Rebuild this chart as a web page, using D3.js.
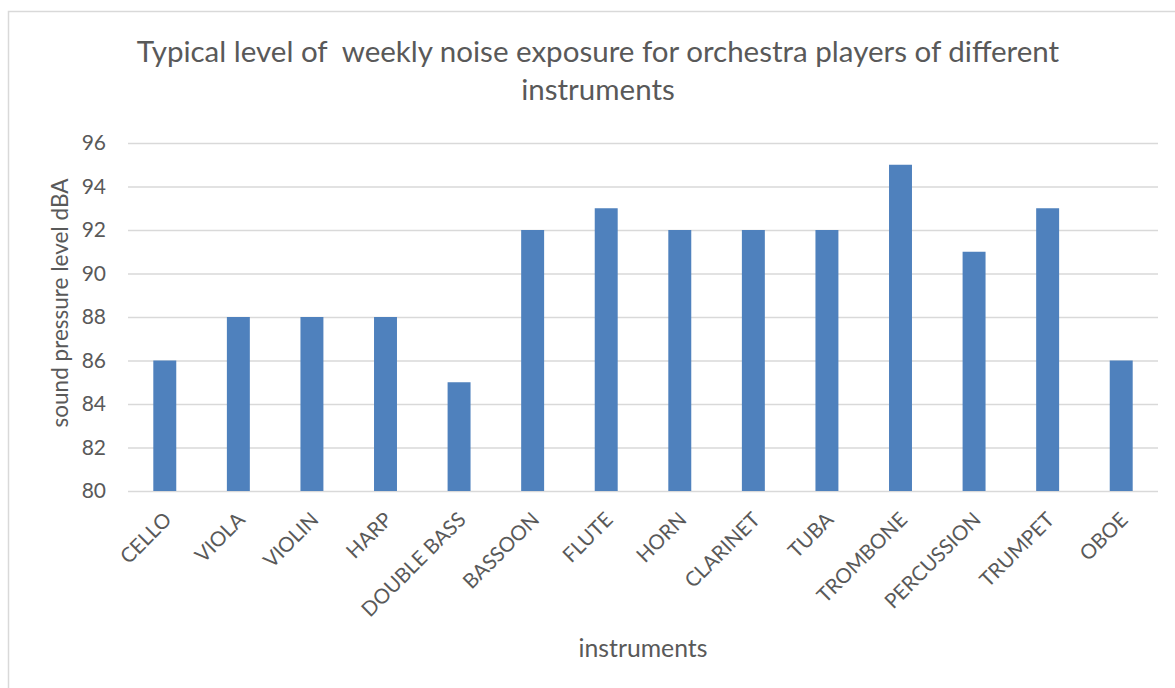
<!DOCTYPE html>
<html>
<head>
<meta charset="utf-8">
<script src="https://cdn.jsdelivr.net/npm/d3@7"></script>
<style>
  body { margin: 0; background: #fff; }
  text { font-family: Lato, "Open Sans", sans-serif; fill: #595959; }
</style>
</head>
<body>
<svg id="chart" width="1175" height="688"></svg>
<script>
const categories = ["CELLO","VIOLA","VIOLIN","HARP","DOUBLE BASS","BASSOON","FLUTE","HORN","CLARINET","TUBA","TROMBONE","PERCUSSION","TRUMPET","OBOE"];
const values = [86, 88, 88, 88, 85, 92, 93, 92, 92, 92, 95, 91, 93, 86];
const yTicks = [80, 82, 84, 86, 88, 90, 92, 94, 96];
const titleLines = ["Typical level of  weekly noise exposure for orchestra players of different", "instruments"];
const xTitle = "instruments";
const yTitle = "sound pressure level dBA";

const svg = d3.select("#chart");
const plot = { left: 128, right: 1158, top: 143, bottom: 491 };

// font size that makes a text element's width match a target width
function fittedSize(sel, target) {
  const fs = parseFloat(sel.style("font-size"));
  const w = sel.node().getComputedTextLength();
  return w > 0 ? fs * target / w : fs;
}

// chart border
svg.append("rect")
  .attr("x", 8.5).attr("y", 11.5)
  .attr("width", 1200).attr("height", 700)
  .attr("fill", "#fff").attr("stroke", "#d9d9d9").attr("stroke-width", 1.5);

const x = d3.scaleBand().domain(categories)
  .range([plot.left, plot.right])
  .paddingInner(0.688).paddingOuter(0.344);
const y = d3.scaleLinear().domain([80, 96]).range([plot.bottom, plot.top]);

// gridlines + y tick labels
const yAxis = d3.axisLeft(y).tickValues(yTicks).tickSize(-(plot.right - plot.left)).tickPadding(22);
const gy = svg.append("g").attr("transform", `translate(${plot.left},0)`).call(yAxis);
gy.select(".domain").remove();
gy.selectAll(".tick line").attr("stroke", "#d9d9d9").attr("stroke-width", 1.5);
gy.selectAll(".tick text").style("font-size", "21px").attr("fill", "#595959")
  .style("font-family", "Lato, sans-serif");

// bars
svg.append("g").selectAll("rect").data(categories).join("rect")
  .attr("x", d => x(d))
  .attr("y", (d, i) => y(values[i]))
  .attr("width", x.bandwidth())
  .attr("height", (d, i) => y(80) - y(values[i]))
  .attr("fill", "#4f81bd");

// x axis labels
const xAxis = d3.axisBottom(x).tickSize(0).tickPadding(0);
const gx = svg.append("g").attr("transform", `translate(0,${plot.bottom})`).call(xAxis);
gx.select(".domain").remove();
gx.selectAll(".tick text")
  .style("font-size", "20.5px").style("font-family", "Lato, sans-serif").attr("fill", "#595959")
  .attr("text-anchor", "end")
  .attr("dy", 0).attr("y", 0)
  .attr("transform", "translate(8,30) rotate(-45)");

// title (two lines, same size; size fitted so line 1 spans the reference width)
const titleTexts = titleLines.map((line, i) =>
  svg.append("text").attr("x", 598).attr("y", 62 + i * 38)
    .attr("text-anchor", "middle").attr("xml:space", "preserve")
    .style("white-space", "pre").style("font-size", "28px").text(line));
const titleSize = fittedSize(titleTexts[0], 923);
titleTexts.forEach(t => t.style("font-size", titleSize + "px"));

// axis titles
const xt = svg.append("text").attr("x", (plot.left + plot.right) / 2).attr("y", 657)
  .attr("text-anchor", "middle").style("font-size", "24px").text(xTitle);
xt.style("font-size", fittedSize(xt, 129) + "px");
const yt = svg.append("text")
  .attr("transform", `translate(68,303) rotate(-90)`)
  .attr("text-anchor", "middle").style("font-size", "22px").text(yTitle);
yt.style("font-size", fittedSize(yt, 249) + "px");
</script>
</body>
</html>
